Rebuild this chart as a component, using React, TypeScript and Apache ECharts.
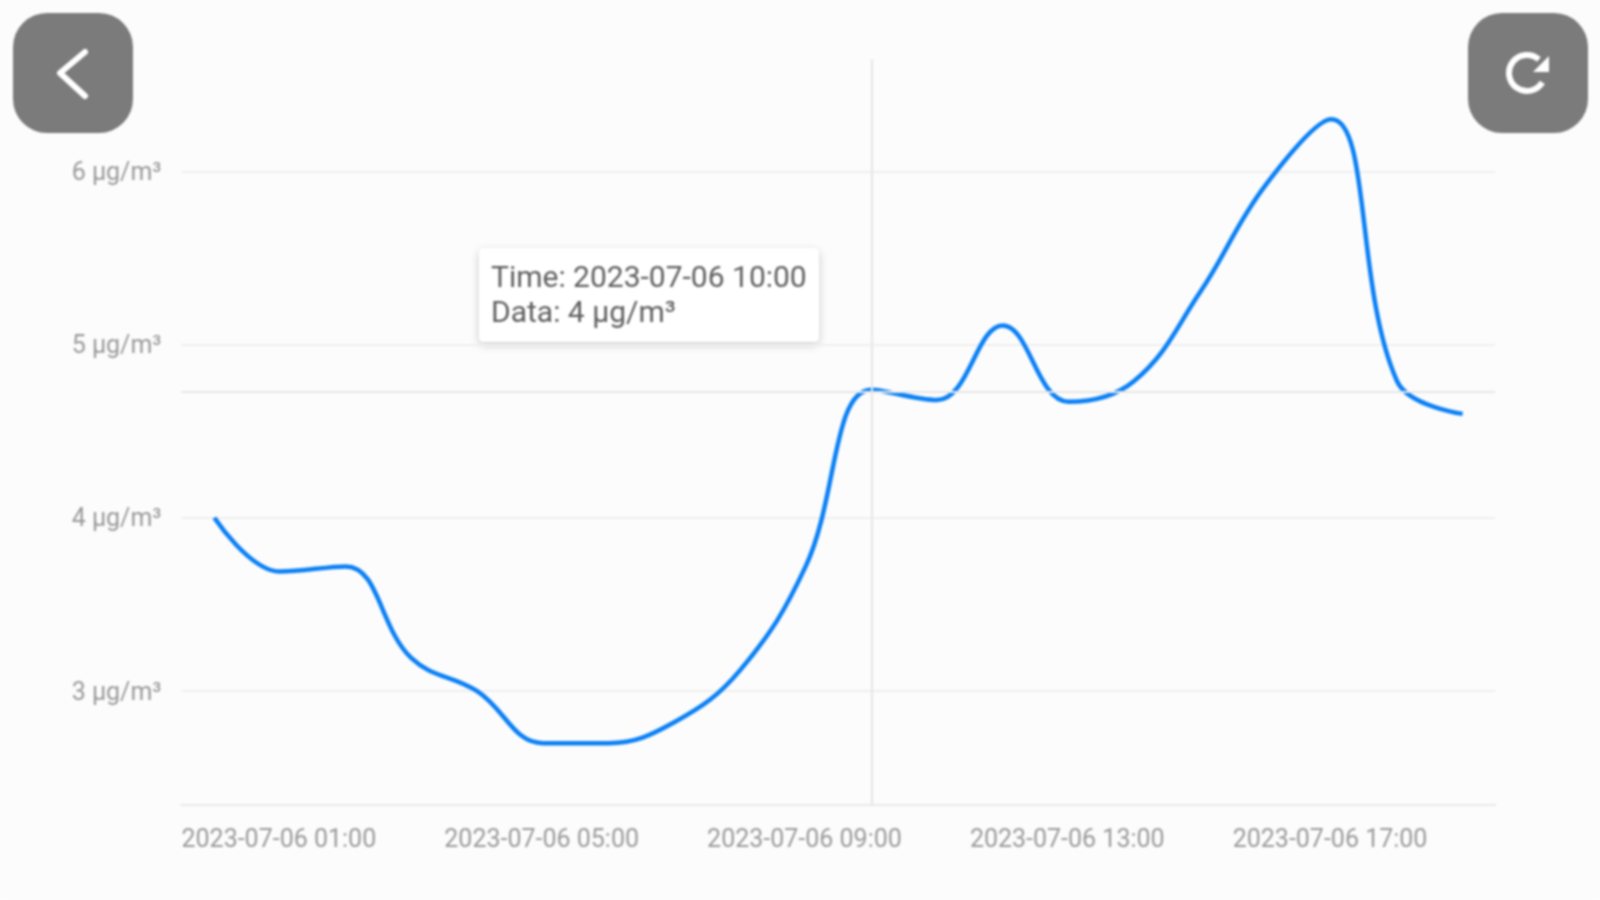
import React, { useEffect, useRef } from "react";
import * as echarts from "echarts";

const hours = ["01:00","02:00","03:00","04:00","05:00","06:00","07:00","08:00","09:00","10:00","11:00","12:00","13:00","14:00","15:00","16:00","17:00","18:00","19:00","20:00"];
const categories = hours.map((h) => "2023-07-06 " + h);
const values = [4, 3.69, 3.72, 3.19, 3, 2.7, 2.7, 2.82, 3.12, 3.72, 4.74, 4.68, 5.11, 4.67, 4.79, 5.3, 5.92, 6.3, 4.79, 4.6];
const yTicks = [3, 4, 5, 6];
const crossIndex = 10;
const tooltipLines = ["Time: 2023-07-06 10:00", "Data: 4 µg/m³"];
const unit = " μg/m³";
const font = "Roboto";

export default function App() {
  const ref = useRef<HTMLDivElement>(null);
  useEffect(() => {
    const chart = echarts.init(ref.current!, undefined, { renderer: "svg" });
    const btn = "#7b7b7b";
    chart.setOption({
      animation: false,
      backgroundColor: "#fcfcfc",
      grid: { left: 181.5, right: 104.5, top: 59, bottom: 95 },
      xAxis: {
        type: "category",
        data: categories,
        boundaryGap: true,
        axisLine: { lineStyle: { color: "#e9e9e9", width: 2 } },
        axisTick: { show: false },
        splitLine: { show: false },
        axisLabel: {
          interval: 3,
          color: "#9a9a9a",
          fontFamily: font,
          fontSize: 25,
          margin: 21,
          padding: [0, 0, 0, 129],
          hideOverlap: false,
        },
      },
      yAxis: {
        type: "value",
        min: 2.343,
        max: 6.648,
        axisLine: { show: false },
        axisTick: { show: false, customValues: yTicks },
        splitLine: { lineStyle: { color: "#efefef", width: 2 } },
        axisLabel: {
          customValues: yTicks,
          formatter: (v: number) => v + unit,
          color: "#9a9a9a",
          fontFamily: font,
          fontSize: 25,
          margin: 20,
        },
      },
      series: [
        {
          type: "line",
          data: values,
          smooth: 0.4,
          showSymbol: false,
          symbol: "none",
          lineStyle: { color: "#0a80f5", width: 4.5 },
          markLine: {
            silent: true,
            symbol: "none",
            label: { show: false },
            lineStyle: { color: "#e6e6e6", width: 2, type: "solid" },
            data: [{ xAxis: crossIndex }, { yAxis: values[crossIndex] - 0.01 }],
          },
        },
      ],
      graphic: [
        { type: "rect", shape: { x: 13, y: 13, width: 120, height: 120, r: 34 }, style: { fill: btn } },
        { type: "polyline", shape: { points: [[85, 52], [60, 73], [85, 96]] }, style: { stroke: "#fff", lineWidth: 6, fill: "none", lineCap: "round", lineJoin: "round" } },
        { type: "rect", shape: { x: 1468, y: 13, width: 120, height: 120, r: 34 }, style: { fill: btn } },
        { type: "arc", shape: { cx: 1527, cy: 73, r: 18, startAngle: -0.85, endAngle: 0.55, clockwise: false }, style: { stroke: "#fff", lineWidth: 6, fill: "none" } },
        { type: "polygon", shape: { points: [[1549, 56], [1549, 72], [1533, 72]] }, style: { fill: "#fff" } },
        { type: "rect", shape: { x: 479, y: 248, width: 340, height: 94, r: 5 }, style: { fill: "#ffffff", shadowBlur: 8, shadowColor: "rgba(0,0,0,0.2)", shadowOffsetY: 3 } },
        { type: "text", x: 491, y: 276, style: { text: tooltipLines[0], font: `30px ${font}`, fill: "#606060", textVerticalAlign: "middle" } },
        { type: "text", x: 491, y: 311, style: { text: tooltipLines[1], font: `30px ${font}`, fill: "#606060", textVerticalAlign: "middle" } },
      ],
    });
    return () => chart.dispose();
  }, []);
  return <div ref={ref} style={{ position: "fixed", left: 0, top: 0, width: 1600, height: 900, filter: "blur(0.9px)" }} />;
}
